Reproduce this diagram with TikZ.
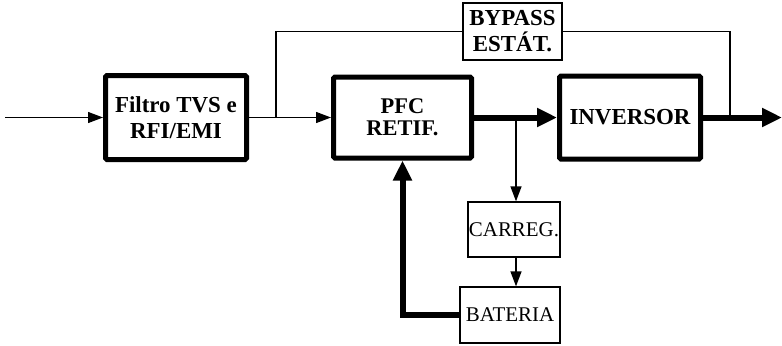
\documentclass[tikz,border=0pt]{standalone}
\usepackage{fontspec}
\setmainfont{Liberation Serif}
\usetikzlibrary{arrows.meta,positioning}

\begin{document}
\begin{tikzpicture}[
    x=1bp, y=-1bp,
    font=\fontsize{23}{26}\selectfont\bfseries,
    bloco/.style={draw, line width=5bp, rounded corners=1.5bp, align=center,
                  inner sep=0pt},
    blocofino/.style={draw, line width=1.3bp, align=center, inner sep=0pt,
                      font=\fontsize{21}{24}\selectfont},
    fio/.style={line width=1.3bp},
    sinal/.style={-{Triangle[length=15bp, width=11bp]}, line width=1.3bp},
    potencia/.style={-{Triangle[length=20bp, width=18bp]}, line width=6bp},
    node distance=82bp
  ]
    \useasboundingbox (0,0) rectangle (782,345);
    \node[bloco, minimum width=141bp, minimum height=84bp] (filtro) at (176,117.5)
      {Filtro TVS e\\RFI/EMI};
    \node[bloco, minimum width=138bp, minimum height=81bp, right=of filtro,
          font=\fontsize{22.5}{22}\selectfont\bfseries] (pfc) {PFC\\RETIF.};
    \node[bloco, minimum width=141bp, minimum height=83bp, right=83bp of pfc]
      (inversor) {INVERSOR};
    \node[blocofino, minimum width=99bp, minimum height=57bp,
          font=\fontsize{23}{26}\selectfont\bfseries] (bypass) at (512.5,31.5)
      {BYPASS\\ESTÁT.};
    \node[blocofino, minimum width=92bp, minimum height=55bp] (carreg)
      at (514,229.5) {CARREG.};
    \node[blocofino, minimum width=100bp, minimum height=56bp] (bateria)
      at (510,315) {BATERIA};
    \coordinate (entrada) at (5,117.5);
    \coordinate (desvio) at (276,117.5);
    \coordinate (ramo) at (516,117.5);
    \coordinate (retorno) at (730,117.5);
    \coordinate (saida) at (782,117.5);
    % entrada e bypass
    \draw[sinal] (entrada) -- (filtro);
    \draw[sinal] (filtro) -- (pfc);
    \draw[fio] (desvio) |- (bypass.west);
    \draw[fio] (bypass.east) -| (retorno);
    % caminho de potencia
    \draw[potencia] (pfc) -- (inversor);
    \draw[potencia] (inversor) -- (saida);
    \draw[sinal] (ramo) -- (ramo |- carreg.north);
    \draw[sinal] (carreg.south -| ramo) -- (ramo |- bateria.north);
    \draw[potencia] (bateria.west) -| (pfc.south);
  \end{tikzpicture}
\end{document}
